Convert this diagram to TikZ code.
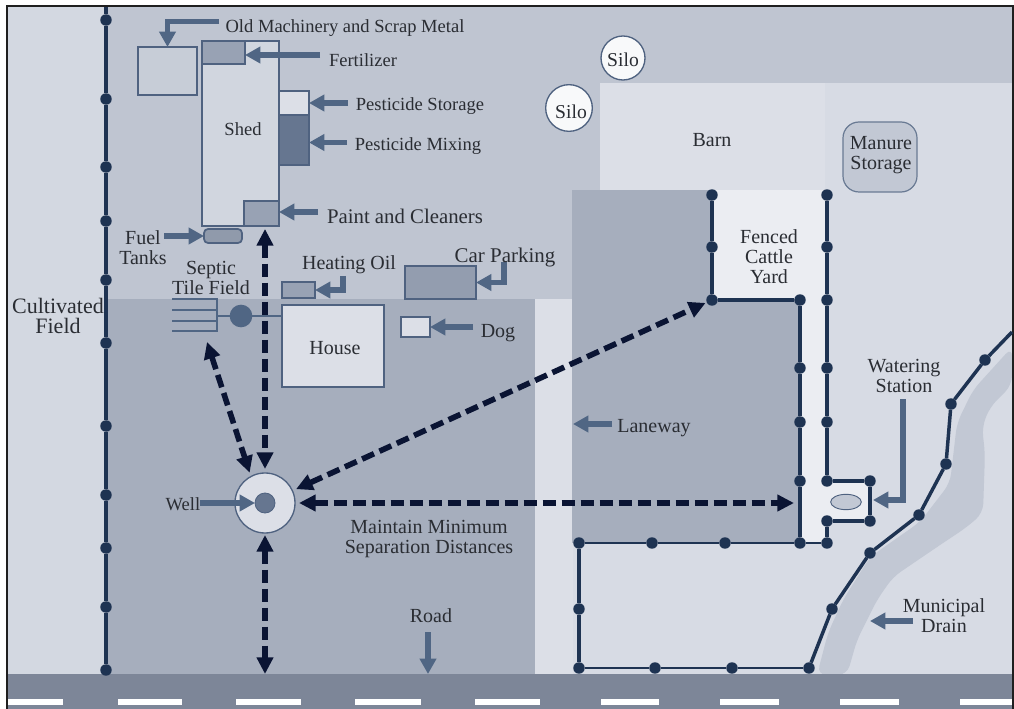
\documentclass[tikz,border=0pt]{standalone}
\usepackage{fontspec}
\setmainfont{Liberation Serif}
\usetikzlibrary{arrows.meta,calc,shapes.geometric}
\definecolor{fieldL}{HTML}{D3D8E1}
\definecolor{bandC}{HTML}{BFC5D1}
\definecolor{lowC}{HTML}{A6AEBD}
\definecolor{rightC}{HTML}{D7DBE4}
\definecolor{barnC}{HTML}{DCDFE7}
\definecolor{yardC}{HTML}{EBEDF2}
\definecolor{roadC}{HTML}{7D8698}
\definecolor{drainC}{HTML}{C2C8D4}
\definecolor{strokeC}{HTML}{4F6280}
\definecolor{calloutC}{HTML}{506684}
\definecolor{fenceC}{HTML}{1E3352}
\definecolor{sepC}{HTML}{0A1433}
\definecolor{textC}{HTML}{2A2D33}
\definecolor{midBox}{HTML}{98A2B4}
\definecolor{darkBox}{HTML}{667690}
\tikzset{
  pxbox/.style 2 args={rectangle,inner sep=0pt,outer sep=0pt,minimum width=#1*0.75pt,minimum height=#2*0.75pt},
  bldg/.style={draw=strokeC,line width=1.3pt},
  post/.style={circle,fill=fenceC,inner sep=0pt,minimum size=8.6pt,outer sep=0pt},
  fence/.style={draw=fenceC,line width=2.9pt,line join=round},
  callout/.style={draw=calloutC,line width=4pt,-{Triangle[length=11.5pt,width=12pt]}},
  sepline/.style={draw=sepC,line width=4.2pt,dash pattern=on 9.75pt off 4.5pt,{Triangle[length=12.5pt,width=12pt]}-{Triangle[length=12.5pt,width=12pt]}},
  lbl/.style={text=textC,align=center,font=\fontsize{15}{15}\selectfont,inner sep=0pt},
  lblsmall/.style={lbl,font=\fontsize{13.9}{15}\selectfont},
  septicline/.style={draw=calloutC,line width=2.2pt},
  silo/.style={circle,draw=strokeC,line width=1pt,fill=white!80!barnC,inner sep=0pt,outer sep=0pt}
}
\begin{document}
\begin{tikzpicture}[x=0.75pt,y=-0.75pt]
\useasboundingbox (0,0) rectangle (1014,709);
\fill[white] (0,0) rectangle (1014,709);
% ground areas
\fill[fieldL] (7,6) rectangle (106,674);
\fill[bandC] (106,6) rectangle (1013,300);
\fill[lowC] (106,299) rectangle (535,674);
\fill[barnC] (535,299) rectangle (573,674);
\fill[rightC] (825,83) rectangle (1013,674);
\fill[rightC] (573,543) rectangle (825,674);
\fill[lowC] (572,190) rectangle (800,543);
\node[pxbox={225}{107},fill=barnC] (barnarea) at (712.5,136.5) {};
\fill[yardC] (712,190) rectangle (827,299);
\fill[yardC] (800,299) rectangle (827,543);
\fill[yardC] (827,481) rectangle (870,521);
% drain
\fill[drainC,rounded corners=7pt] (817,675) -- (828,633) -- (843,600) -- (870,557) -- (920,522) -- (950,483) -- (957,423) -- (973,390) -- (1012,347)
  -- (1012,385) -- (990,407) -- (982,427) -- (985,453) -- (983,513) -- (967,527) -- (943,543) -- (893,577) -- (877,600) -- (857,640) -- (847,675) -- cycle;
% road
\node[pxbox={1005}{35},fill=roadC] (road) at (510,691.5) {};
\foreach \a/\b in {8/63,118/182,236/301,355/421,475/540,601/659,720/779,840/899,960/1012}
  \fill[white] (\a,698.5) rectangle (\b,705);
% frame
\draw[black!88,line width=1.8pt] (7,709) -- (7,6) -- (1013,6) -- (1013,709);
% main fence
\foreach \n/\y in {1/20,2/99,3/167,4/221,5/280,6/343,7/426,8/495,9/548,10/607,11/670}
  \node[post] (m\n) at (106,\y) {};
\coordinate (mtop) at (106,7);
\draw[fence,line width=3.1pt] (mtop) -- (m1) -- (m2) -- (m3) -- (m4) -- (m5) -- (m6) -- (m7) -- (m8) -- (m9) -- (m10) -- (m11);
% cattle fence
\node[post] (c1) at (712,195) {};
\node[post] (c2) at (712,247) {};
\node[post] (c3) at (712,300) {};
\node[post] (c4) at (800,300) {};
\node[post] (c5) at (800,368) {};
\node[post] (c6) at (800,422) {};
\node[post] (c7) at (800,481) {};
\node[post] (c8) at (800,543) {};
\node[post] (d1) at (827,195) {};
\node[post] (d2) at (827,247) {};
\node[post] (d3) at (827,300) {};
\node[post] (d4) at (827,368) {};
\node[post] (d5) at (827,422) {};
\node[post] (d6) at (827,481) {};
\node[post] (d7) at (870,481) {};
\node[post] (d8) at (870,521) {};
\node[post] (d9) at (827,521) {};
\node[post] (d10) at (827,543) {};
\node[post] (e1) at (725,543) {};
\node[post] (e2) at (652,543) {};
\node[post] (e3) at (579,543) {};
\node[post] (e4) at (579,609) {};
\node[post] (e5) at (579,668) {};
\node[post] (e6) at (655,668) {};
\node[post] (e7) at (732,668) {};
\node[post] (e8) at (809,668) {};
\node[post] (e9) at (832,609) {};
\node[post] (e10) at (870,553) {};
\node[post] (e11) at (919,515) {};
\node[post] (e12) at (946,464) {};
\node[post] (e13) at (951,404) {};
\node[post] (e14) at (985,360) {};
\coordinate (eend) at (1012,332);
\draw[fence] (c1) -- (c2) -- (c3);
\draw[fence,line width=2.3pt] (c3) -- (c4);
\draw[fence] (c4) -- (c5) -- (c6) -- (c7) -- (c8);
\draw[fence] (d1) -- (d2) -- (d3) -- (d4) -- (d5) -- (d6);
\draw[fence,line width=2.3pt] (d6) -- (d7);
\draw[fence] (d7) -- (d8);
\draw[fence,line width=2.3pt] (d8) -- (d9);
\draw[fence] (d9) -- (d10);
\draw[fence,line width=2.2pt] (d10) -- (c8) -- (e1) -- (e2) -- (e3);
\draw[fence] (e3) -- (e4) -- (e5);
\draw[fence,line width=2.2pt] (e5) -- (e6) -- (e7) -- (e8);
\draw[fence,line width=2.6pt] (e8) -- (e9) -- (e10) -- (e11) -- (e12) -- (e13) -- (e14) -- (eend);
% buildings
\node[pxbox={77}{185},bldg,fill=fieldL!90!bandC] (shed) at (240.5,133.5) {};
\node[pxbox={43}{23},bldg,fill=midBox] (fert) at (223.5,52.5) {};
\node[pxbox={59}{48},bldg,fill=bandC!60!fieldL] (old) at (167.5,71) {};
\node[pxbox={30}{24},bldg,fill=barnC] (pstore) at (294,103) {};
\node[pxbox={30}{50},bldg,fill=darkBox] (pmix) at (294,140) {};
\node[pxbox={35}{25},bldg,fill=midBox] (paint) at (261.5,213.5) {};
\node[pxbox={38}{14},bldg,fill=midBox!95!black,rounded corners=3pt] (fuel) at (223,236) {};
\node[pxbox={33}{16},bldg,fill=midBox] (heat) at (298.5,290) {};
\node[pxbox={71}{33},bldg,fill=midBox!97!black] (car) at (440.5,282.5) {};
\node[pxbox={102}{82},bldg,fill=barnC] (house) at (333,346) {};
\node[pxbox={29}{20},bldg,fill=barnC] (dog) at (415.5,327) {};
\node[silo,minimum size=33pt] (silob) at (623,58) {};
\node[silo,minimum size=35pt] (siloa) at (569,108) {};
\node[pxbox={74}{70},draw=strokeC!85!white,line width=.9pt,fill=drainC,rounded corners=12pt] (manure) at (880,157) {};
\node[ellipse,draw=strokeC,line width=.7pt,fill=drainC,minimum width=23pt,minimum height=11.5pt,inner sep=0pt] (trough) at (846,502) {};
% septic
\coordinate (sa) at (172,299);\coordinate (sb) at (172,310);\coordinate (sc) at (172,321);\coordinate (sd) at (172,331);
\coordinate (sj) at (217,316);
\node[circle,fill=calloutC,minimum size=17pt,inner sep=0pt,outer sep=0pt] (tank) at (241,316) {};
\draw[septicline] (sa) -- (sa -| sj) -- (sd -| sj) -- (sd);
\draw[septicline] (sb) -- (sb -| sj);
\draw[septicline] (sc) -- (sc -| sj);
\draw[septicline] (sj) -- (tank) -- (house.west |- tank);
% well
\node[circle,draw=strokeC,line width=1pt,fill=barnC,minimum size=45pt,inner sep=0pt,outer sep=0pt] (well) at (265,503) {};
\node[circle,draw=strokeC,fill=darkBox,line width=.6pt,minimum size=15pt,inner sep=0pt,outer sep=0pt] (wellcore) at (265,503) {};
% callouts
\coordinate (toldt) at (219,21.5);
\draw[callout] (toldt) -| (old.north);
\coordinate (tfert) at (320,55);
\draw[callout] (tfert) -- (tfert -| fert.east);
\coordinate (tstore) at (348,103);
\draw[callout] (tstore) -- (tstore -| pstore.east);
\coordinate (tmix) at (347,142.5);
\draw[callout] (tmix) -- (tmix -| pmix.east);
\coordinate (tpaint) at (318,212);
\draw[callout] (tpaint) -- (tpaint -| paint.east);
\coordinate (tfuel) at (164,236);
\draw[callout] (tfuel) -- (fuel.west);
\coordinate (theat) at (343,276);
\draw[callout] (theat) |- (heat.east);
\coordinate (tcar) at (504,262);
\draw[callout] (tcar) |- (car.east);
\coordinate (tdog) at (473,327);
\draw[callout] (tdog) -- (dog.east);
\coordinate (tlane) at (612,424);
\coordinate (lane) at (573,424);
\draw[callout] (tlane) -- (lane);
\coordinate (troad) at (428,632);
\draw[callout] (troad) -- (troad |- road.north);
\coordinate (twell) at (200,503);
\draw[callout] (twell) -- (wellcore.west);
\coordinate (twater) at (903,399);
\coordinate (water) at (873,500);
\draw[callout] (twater) |- (water);
\coordinate (tdrain) at (913,621);
\coordinate (drainpt) at (870,621);
\draw[callout] (tdrain) -- (drainpt);
% separation arrows
\coordinate (tseptic) at (207,342);
\draw[sepline,shorten >=3pt] (tseptic) -- (well.118);
\draw[sepline,shorten <=2.2pt,shorten >=3pt] (well.north |- paint.south) -- (well.north);
\draw[sepline,shorten <=1.5pt] (well.south) -- (well.south |- road.north);
\draw[sepline,shorten <=3pt,shorten >=1pt] (well.24) -- (c3);
\draw[sepline,shorten <=3pt,shorten >=4.5pt] (well.east) -- (well.east -| c7);
% labels
\node[lblsmall] (lold) at (345,28) {Old Machinery and Scrap Metal};
\node[lblsmall] (lfert) at (363,60) {Fertilizer};
\node[lblsmall] (lstore) at (420,106) {Pesticide Storage};
\node[lblsmall] (lmix) at (418,146) {Pesticide Mixing};
\node[lblsmall] (lshed) at (243,129) {Shed};
\node[lbl,font=\fontsize{15.6}{15}\selectfont] (lpaint) at (405,216) {Paint and Cleaners};
\node[lbl] (lfuel) at (143,248) {Fuel\\Tanks};
\node[lbl] (lsept) at (211,278) {Septic\\Tile Field};
\node[lbl] (lheat) at (349,265) {Heating Oil};
\node[lbl,font=\fontsize{15.7}{15}\selectfont] (lcar) at (505,257) {Car Parking};
\node[lbl] (ldog) at (498,333) {Dog};
\node[lbl] (lhouse) at (335,348) {House};
\node[lbl,font=\fontsize{16.5}{15}\selectfont] (lcult) at (58,316) {Cultivated\\Field};
\node[lblsmall] (lwell) at (183,504) {Well};
\node[lbl] (lmain) at (429,539) {Maintain Minimum\\Separation Distances};
\node[lbl] (llane) at (654,428) {Laneway};
\node[lbl] (lroad) at (431,616) {Road};
\node[lbl] (lbarn) at (712,140) {Barn};
\node[lbl] (lyard) at (769,257) {Fenced\\Cattle\\Yard};
\node[lbl] (lman) at (881,155) {Manure\\Storage};
\node[lbl] (lwat) at (904,376) {Watering\\Station};
\node[lbl] (ldrain) at (944,616) {Municipal\\Drain};
\node[lbl,font=\fontsize{14.7}{15}\selectfont] (ls1) at (623,60) {Silo};
\node[lbl,font=\fontsize{14.7}{15}\selectfont] (ls2) at (571,112) {Silo};
\end{tikzpicture}
\end{document}
